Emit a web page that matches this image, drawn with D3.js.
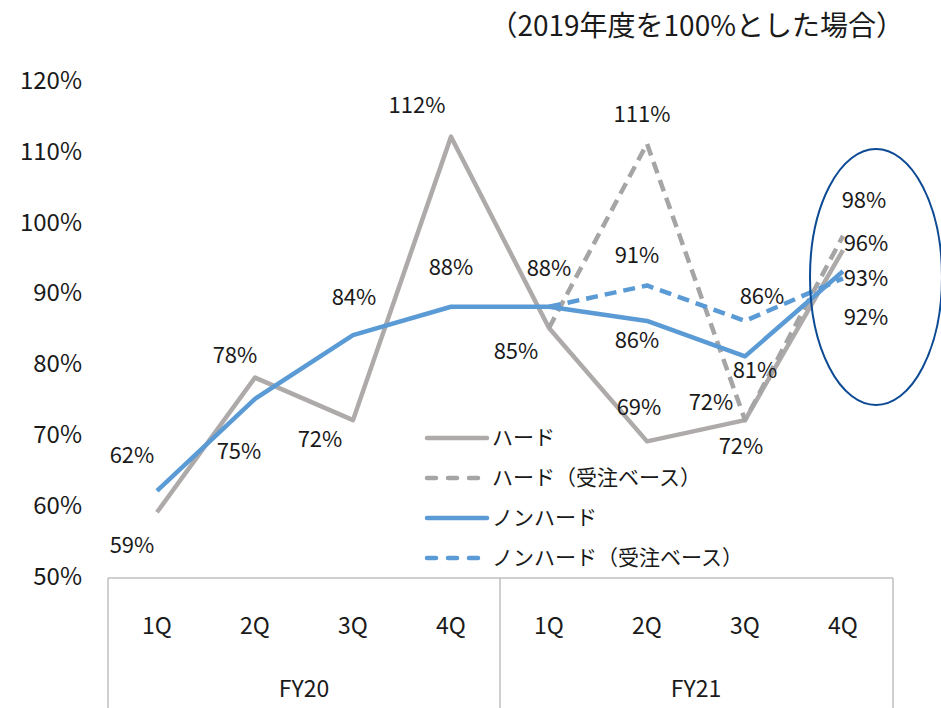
<!DOCTYPE html>
<html>
<head>
<meta charset="utf-8">
<script src="https://cdn.jsdelivr.net/npm/d3@7"></script>
<style>
  body { margin: 0; background: #fff; }
  svg text { font-family: "Noto Sans CJK JP", "Noto Sans", sans-serif; fill: #1a1a1a; font-weight: 400; }
</style>
</head>
<body>
<div id="chart"></div>
<script>
// data
var quarters = ["1Q", "2Q", "3Q", "4Q", "1Q", "2Q", "3Q", "4Q"];
var years = ["FY20", "FY21"];
var hard = [59, 78, 72, 112, 85, 69, 72, 96];
var hardOrder = [null, null, null, null, 85, 111, 72, 98];
var nonHard = [62, 75, 84, 88, 88, 86, 81, 93];
var nonHardOrder = [null, null, null, null, 88, 91, 86, 92];
var yTicks = [50, 60, 70, 80, 90, 100, 110, 120];
var seriesNames = ["ハード", "ハード（受注ベース）", "ノンハード", "ノンハード（受注ベース）"];

// label offsets (layout only), [dx, dy] per point, null = no label
var hardLab = [[-25, 33], [-20, -22], [-33, 19], [-34, -31], [-33, 23], [-8, -34], [-4, 26], [23, -7]];
var hardOrderLab = [null, null, null, null, null, [-5, -29], [-34, -18], [21, -36]];
var nonHardLab = [[-25, -36], [-16, 52], [1, -38], [0, -39], [0, -38], [-10, 19], [10, 14], [23, 7]];
var nonHardOrderLab = [null, null, null, null, null, [-10, -30], [17, -25], [23, 39]];

var width = 941, height = 708;
var plotLeft = 108, plotRight = 892, plotTop = 80, plotBottom = 576;

var svg = d3.select("#chart").append("svg")
    .attr("width", width)
    .attr("height", height);

var idx = d3.range(quarters.length);
var x = d3.scaleBand().domain(idx).range([plotLeft, plotRight]);
var y = d3.scaleLinear().domain([50, 120]).range([plotBottom, plotTop]);
var cx = (i) => x(i) + x.bandwidth() / 2;

// title
svg.append("text")
    .attr("x", 904).attr("y", 36)
    .attr("text-anchor", "end")
    .style("font-size", "28px")
    .text("（2019年度を100%とした場合）");

// y axis labels
var yAxis = d3.axisLeft(y).tickValues(yTicks).tickFormat((d) => d + "%").tickSize(0).tickPadding(0);
var gy = svg.append("g").attr("transform", "translate(82,0)").call(yAxis);
gy.select(".domain").remove();
gy.selectAll("text").style("font-size", "24px").attr("dy", "0.35em")
    .style("font-family", "'Noto Sans CJK JP', sans-serif").attr("fill", "#1a1a1a");

// category box
var boxColor = "#bfbfbf";
svg.append("line").attr("x1", plotLeft).attr("x2", plotRight + 1).attr("y1", 578).attr("y2", 578)
    .attr("stroke", boxColor).attr("stroke-width", 1.5);
[plotLeft, x(4), plotRight + 1].forEach(function (xx) {
    svg.append("line").attr("x1", xx).attr("x2", xx).attr("y1", 578).attr("y2", height)
        .attr("stroke", boxColor).attr("stroke-width", 1.5);
});

var xAxis = d3.axisBottom(x).tickFormat((d) => quarters[d]).tickSize(0).tickPadding(0);
var gx = svg.append("g").attr("transform", "translate(0,626)").call(xAxis);
gx.select(".domain").remove();
gx.selectAll("text").style("font-size", "23px").attr("dy", "0.35em")
    .style("font-family", "'Noto Sans CJK JP', sans-serif").attr("fill", "#1a1a1a");

years.forEach(function (yr, k) {
    svg.append("text")
        .attr("x", (cx(k * 4 + 1) + cx(k * 4 + 2)) / 2)
        .attr("y", 689)
        .attr("dy", "0.35em")
        .attr("text-anchor", "middle")
        .style("font-size", "23px")
        .text(yr);
});

// lines
var gray = "#aeaaaa", grayD = "#a5a5a5", blue = "#5b9bd5";
var series = [
    { vals: hard, color: gray, dash: null, labs: hardLab },
    { vals: hardOrder, color: grayD, dash: "12,7", labs: hardOrderLab },
    { vals: nonHard, color: blue, dash: null, labs: nonHardLab },
    { vals: nonHardOrder, color: blue, dash: "12,7", labs: nonHardOrderLab }
];

series.forEach(function (s) {
    var idxs = idx.filter((i) => s.vals[i] != null);
    svg.append("path")
        .attr("d", d3.line().x((i) => cx(i)).y((i) => y(s.vals[i]))(idxs))
        .attr("fill", "none")
        .attr("stroke", s.color)
        .attr("stroke-width", 4.5)
        .attr("stroke-linejoin", "round")
        .attr("stroke-dasharray", s.dash);
});

// data labels
series.forEach(function (s) {
    s.vals.forEach(function (v, i) {
        if (v == null || !s.labs[i]) return;
        svg.append("text")
            .attr("x", cx(i) + s.labs[i][0])
            .attr("y", y(v) + s.labs[i][1])
            .attr("dy", "0.35em")
            .attr("text-anchor", "middle")
            .style("font-size", "22px")
            .text(v + "%");
    });
});

// legend
var legend = svg.append("g").attr("transform", "translate(425,438)");
series.forEach(function (s, k) {
    var g = legend.append("g").attr("transform", "translate(0," + (k * 40) + ")");
    g.append("line").attr("x1", 2).attr("x2", 62).attr("y1", 0).attr("y2", 0)
        .attr("stroke", s.color).attr("stroke-width", 4.5)
        .attr("stroke-linecap", "round")
        .attr("stroke-dasharray", s.dash ? "9,12" : null);
    g.append("text").attr("x", 67).attr("y", 0).attr("dy", "0.35em")
        .style("font-size", "21px")
        .text(seriesNames[k]);
});

// highlight ellipse
svg.append("ellipse")
    .attr("cx", 876).attr("cy", 277).attr("rx", 66).attr("ry", 128)
    .attr("fill", "none").attr("stroke", "#0d4a94").attr("stroke-width", 2);
</script>
</body>
</html>
